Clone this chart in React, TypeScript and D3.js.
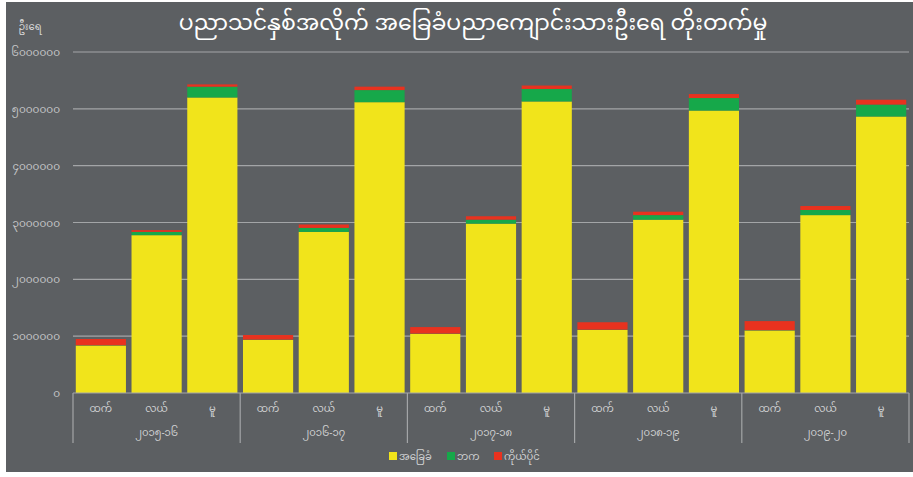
import React from "react";
import * as d3 from "d3";

const years = ["၂၀၁၅-၁၆", "၂၀၁၆-၁၇", "၂၀၁၇-၁၈", "၂၀၁၈-၁၉", "၂၀၁၉-၂၀"];
const levels = ["ထက်", "လယ်", "မူ"];
const seriesNames = ["အခြေခံ", "ဘက", "ကိုယ်ပိုင်"];
const seriesColors = ["#f1e41b", "#16a84a", "#e8321f"];

// values per year, per level [high, middle, primary]
const basicValues = [
  [835000, 2777000, 5200000],
  [935000, 2835000, 5117000],
  [1040000, 2980000, 5130000],
  [1110000, 3050000, 4970000],
  [1100000, 3130000, 4865000],
];
const monasticValues = [
  [5000, 58000, 190000],
  [5000, 70000, 213000],
  [5000, 70000, 220000],
  [5000, 80000, 220000],
  [5000, 90000, 210000],
];
const privateValues = [
  [110000, 30000, 40000],
  [80000, 60000, 60000],
  [115000, 60000, 60000],
  [130000, 60000, 70000],
  [160000, 70000, 85000],
];

const yTicks = [0, 1000000, 2000000, 3000000, 4000000, 5000000, 6000000];
const yTickLabels = ["၀", "၁၀၀၀၀၀၀", "၂၀၀၀၀၀၀", "၃၀၀၀၀၀၀", "၄၀၀၀၀၀၀", "၅၀၀၀၀၀၀", "၆၀၀၀၀၀၀"];

const title = "ပညာသင်နှစ်အလိုက် အခြေခံပညာကျောင်းသားဦးရေ တိုးတက်မှု";
const yUnit = "ဦးရေ";

const FONT = "'Noto Sans Myanmar', 'Padauk', 'Myanmar Text', 'Noto Sans', sans-serif";

export default function App() {
  const W = 913, H = 477;
  const left = 73, right = 909, top = 52, bottom = 393;
  const y = d3.scaleLinear().domain([0, 6000000]).range([bottom, top]);
  const xg = d3.scaleBand<string>().domain(years).range([left, right]).padding(0);
  const xi = d3.scaleBand<string>().domain(levels).range([0, xg.bandwidth()]).paddingInner(0.1).paddingOuter(0.05);

  const allSeries = [basicValues, monasticValues, privateValues];
  const rects: JSX.Element[] = [];
  years.forEach((yr, gi) => {
    levels.forEach((lv, li) => {
      let acc = 0;
      allSeries.forEach((s, si) => {
        const v = s[gi][li];
        const y0 = y(acc);
        const y1 = y(acc + v);
        acc += v;
        rects.push(
          <rect key={`${gi}-${li}-${si}`} x={(xg(yr) ?? 0) + (xi(lv) ?? 0)} y={y1}
            width={xi.bandwidth()} height={Math.max(0, y0 - y1)} fill={seriesColors[si]} />
        );
      });
    });
  });

  const legendItems = [
    { x: 389 },
    { x: 447 },
    { x: 494 },
  ];

  return (
    <svg width={W} height={H} style={{ position: "absolute", left: 0, top: 0, background: "#ffffff" }} fontFamily={FONT}>
      <rect x={6} y={2} width={W - 6} height={470} fill="#5c5f62" />
      <text x={473} y={30} textAnchor="middle" fill="#ffffff" fontSize={22}>{title}</text>
      <text x={30} y={30} textAnchor="middle" fill="#d8d8d8" fontSize={10}>{yUnit}</text>
      {yTicks.map((t, i) => (
        <g key={t}>
          {t > 0 && <line x1={left} x2={right} y1={y(t)} y2={y(t)} stroke="#a3a5a7" strokeWidth={1.2} />}
          <text x={60} y={y(t) + 4} textAnchor="end" fill="#c4c5c6" fontSize={10.5}>{yTickLabels[i]}</text>
        </g>
      ))}
      {rects}
      <line x1={left} x2={right} y1={bottom} y2={bottom} stroke="#a3a5a7" strokeWidth={1.2} />
      {years.map((yr) => (
        <line key={yr} x1={xg(yr)} x2={xg(yr)} y1={bottom} y2={443} stroke="#a3a5a7" strokeWidth={1.2} />
      ))}
      <line x1={right} x2={right} y1={bottom} y2={443} stroke="#a3a5a7" strokeWidth={1.2} />
      {years.map((yr) => (
        <g key={"l" + yr}>
          {levels.map((lv) => (
            <text key={lv} x={(xg(yr) ?? 0) + (xi(lv) ?? 0) + xi.bandwidth() / 2} y={412}
              textAnchor="middle" fill="#d0d1d2" fontSize={10}>{lv}</text>
          ))}
          <text x={(xg(yr) ?? 0) + xg.bandwidth() / 2} y={436} textAnchor="middle" fill="#d0d1d2" fontSize={10}>{yr}</text>
        </g>
      ))}
      {seriesNames.map((n, i) => (
        <g key={n}>
          <rect x={legendItems[i].x} y={452} width={8} height={8} fill={seriesColors[i]} />
          <text x={legendItems[i].x + 10} y={460} fill="#d0d1d2" fontSize={10}>{n}</text>
        </g>
      ))}
    </svg>
  );
}
